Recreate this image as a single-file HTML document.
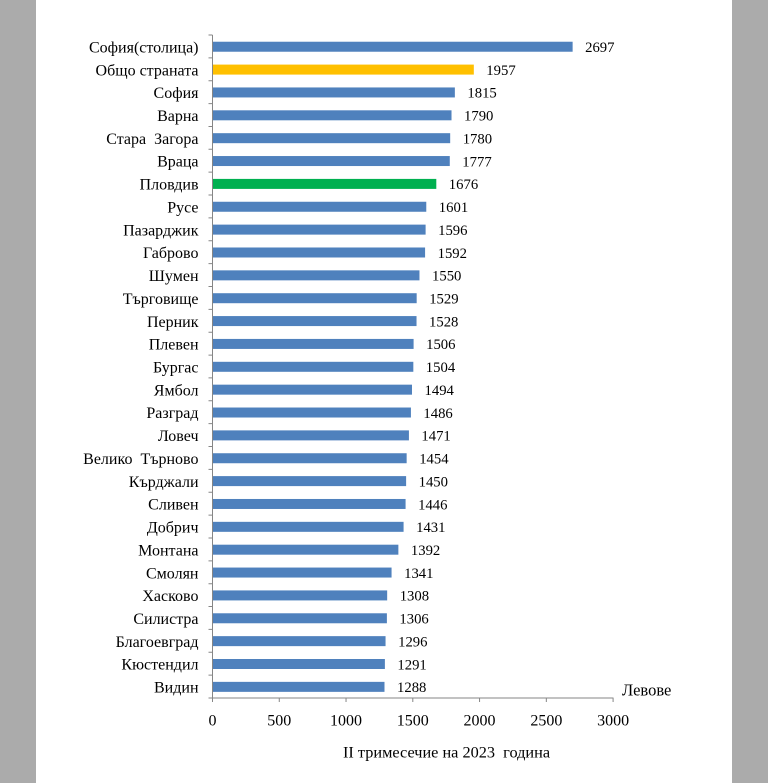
<!DOCTYPE html>
<html><head><meta charset="utf-8"><style>
html,body{margin:0;padding:0;background:#fff;}
svg{display:block;}
text{font-family:"Liberation Serif","DejaVu Serif",serif;fill:#000;white-space:pre;}
</style></head><body>
<svg width="768" height="783" viewBox="0 0 768 783" xmlns="http://www.w3.org/2000/svg" xml:space="preserve">
<rect x="0" y="0" width="768" height="783" fill="#ffffff"/>
<rect x="0" y="0" width="36" height="783" fill="#ababab"/>
<rect x="732" y="0" width="36" height="783" fill="#ababab"/>
<g>
<rect x="212.5" y="41.73" width="360.13" height="10" fill="#4f81bd"/>
<rect x="212.5" y="64.59" width="261.32" height="10" fill="#ffc000"/>
<rect x="212.5" y="87.45" width="242.36" height="10" fill="#4f81bd"/>
<rect x="212.5" y="110.31" width="239.02" height="10" fill="#4f81bd"/>
<rect x="212.5" y="133.18" width="237.68" height="10" fill="#4f81bd"/>
<rect x="212.5" y="156.04" width="237.28" height="10" fill="#4f81bd"/>
<rect x="212.5" y="178.90" width="223.80" height="10" fill="#00b050"/>
<rect x="212.5" y="201.76" width="213.78" height="10" fill="#4f81bd"/>
<rect x="212.5" y="224.62" width="213.11" height="10" fill="#4f81bd"/>
<rect x="212.5" y="247.49" width="212.58" height="10" fill="#4f81bd"/>
<rect x="212.5" y="270.35" width="206.97" height="10" fill="#4f81bd"/>
<rect x="212.5" y="293.21" width="204.17" height="10" fill="#4f81bd"/>
<rect x="212.5" y="316.07" width="204.03" height="10" fill="#4f81bd"/>
<rect x="212.5" y="338.93" width="201.10" height="10" fill="#4f81bd"/>
<rect x="212.5" y="361.80" width="200.83" height="10" fill="#4f81bd"/>
<rect x="212.5" y="384.66" width="199.49" height="10" fill="#4f81bd"/>
<rect x="212.5" y="407.52" width="198.43" height="10" fill="#4f81bd"/>
<rect x="212.5" y="430.38" width="196.42" height="10" fill="#4f81bd"/>
<rect x="212.5" y="453.24" width="194.15" height="10" fill="#4f81bd"/>
<rect x="212.5" y="476.11" width="193.62" height="10" fill="#4f81bd"/>
<rect x="212.5" y="498.97" width="193.08" height="10" fill="#4f81bd"/>
<rect x="212.5" y="521.83" width="191.08" height="10" fill="#4f81bd"/>
<rect x="212.5" y="544.69" width="185.87" height="10" fill="#4f81bd"/>
<rect x="212.5" y="567.55" width="179.06" height="10" fill="#4f81bd"/>
<rect x="212.5" y="590.42" width="174.66" height="10" fill="#4f81bd"/>
<rect x="212.5" y="613.28" width="174.39" height="10" fill="#4f81bd"/>
<rect x="212.5" y="636.14" width="173.05" height="10" fill="#4f81bd"/>
<rect x="212.5" y="659.00" width="172.39" height="10" fill="#4f81bd"/>
<rect x="212.5" y="681.86" width="171.99" height="10" fill="#4f81bd"/>
</g>
<g stroke="#868686" stroke-width="1" fill="none">
<path d="M212.5 35V698H613.5"/>
<path d="M208.5 35H212.5M208.5 57.86H212.5M208.5 80.72H212.5M208.5 103.59H212.5M208.5 126.45H212.5M208.5 149.31H212.5M208.5 172.17H212.5M208.5 195.03H212.5M208.5 217.90H212.5M208.5 240.76H212.5M208.5 263.62H212.5M208.5 286.48H212.5M208.5 309.34H212.5M208.5 332.21H212.5M208.5 355.07H212.5M208.5 377.93H212.5M208.5 400.79H212.5M208.5 423.66H212.5M208.5 446.52H212.5M208.5 469.38H212.5M208.5 492.24H212.5M208.5 515.10H212.5M208.5 537.97H212.5M208.5 560.83H212.5M208.5 583.69H212.5M208.5 606.55H212.5M208.5 629.41H212.5M208.5 652.28H212.5M208.5 675.14H212.5M208.5 698H212.5"/>
<path d="M212.5 698V702M279.27 698V702M346.03 698V702M412.8 698V702M479.56 698V702M546.33 698V702M613.09 698V702"/>
</g>
<g font-size="16" text-anchor="end">
<text x="198.5" y="52.4">София(столица)</text>
<text x="198.5" y="75.3">Общо страната</text>
<text x="198.5" y="98.2">София</text>
<text x="198.5" y="121.0">Варна</text>
<text x="198.5" y="143.9">Стара  Загора</text>
<text x="198.5" y="166.7">Враца</text>
<text x="198.5" y="189.6">Пловдив</text>
<text x="198.5" y="212.5">Русе</text>
<text x="198.5" y="235.3">Пазарджик</text>
<text x="198.5" y="258.2">Габрово</text>
<text x="198.5" y="281.1">Шумен</text>
<text x="198.5" y="303.9">Търговище</text>
<text x="198.5" y="326.8">Перник</text>
<text x="198.5" y="349.6">Плевен</text>
<text x="198.5" y="372.5">Бургас</text>
<text x="198.5" y="395.4">Ямбол</text>
<text x="198.5" y="418.2">Разград</text>
<text x="198.5" y="441.1">Ловеч</text>
<text x="198.5" y="463.9">Велико  Търново</text>
<text x="198.5" y="486.8">Кърджали</text>
<text x="198.5" y="509.7">Сливен</text>
<text x="198.5" y="532.5">Добрич</text>
<text x="198.5" y="555.4">Монтана</text>
<text x="198.5" y="578.3">Смолян</text>
<text x="198.5" y="601.1">Хасково</text>
<text x="198.5" y="624.0">Силистра</text>
<text x="198.5" y="646.8">Благоевград</text>
<text x="198.5" y="669.7">Кюстендил</text>
<text x="198.5" y="692.6">Видин</text>
</g>
<g font-size="14.7">
<text x="585.1" y="52.0">2697</text>
<text x="486.3" y="74.9">1957</text>
<text x="467.4" y="97.7">1815</text>
<text x="464.0" y="120.6">1790</text>
<text x="462.7" y="143.5">1780</text>
<text x="462.3" y="166.3">1777</text>
<text x="448.8" y="189.2">1676</text>
<text x="438.8" y="212.0">1601</text>
<text x="438.1" y="234.9">1596</text>
<text x="437.6" y="257.8">1592</text>
<text x="432.0" y="280.6">1550</text>
<text x="429.2" y="303.5">1529</text>
<text x="429.0" y="326.4">1528</text>
<text x="426.1" y="349.2">1506</text>
<text x="425.8" y="372.1">1504</text>
<text x="424.5" y="394.9">1494</text>
<text x="423.4" y="417.8">1486</text>
<text x="421.4" y="440.7">1471</text>
<text x="419.2" y="463.5">1454</text>
<text x="418.6" y="486.4">1450</text>
<text x="418.1" y="509.3">1446</text>
<text x="416.1" y="532.1">1431</text>
<text x="410.9" y="555.0">1392</text>
<text x="404.1" y="577.9">1341</text>
<text x="399.7" y="600.7">1308</text>
<text x="399.4" y="623.6">1306</text>
<text x="398.1" y="646.4">1296</text>
<text x="397.4" y="669.3">1291</text>
<text x="397.0" y="692.2">1288</text>
</g>
<g font-size="16" text-anchor="middle">
<text x="212.5" y="725.5">0</text>
<text x="279.27" y="725.5">500</text>
<text x="346.03" y="725.5">1000</text>
<text x="412.8" y="725.5">1500</text>
<text x="479.56" y="725.5">2000</text>
<text x="546.33" y="725.5">2500</text>
<text x="613.09" y="725.5">3000</text>
</g>
<text x="622" y="695.5" font-size="16.5">Левове</text>
<text x="343" y="757.5" font-size="16.3">II тримесечие на 2023  година</text>
</svg>
</body></html>
